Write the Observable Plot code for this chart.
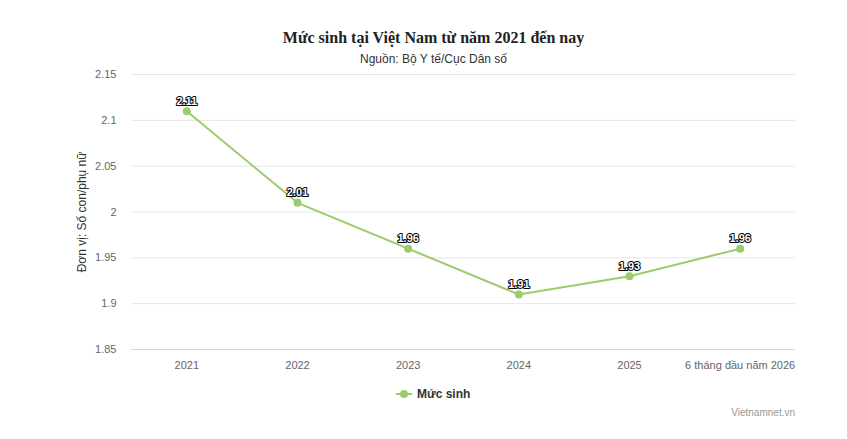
<!DOCTYPE html>
<html>
<head>
<meta charset="utf-8">
<script src="https://cdn.jsdelivr.net/npm/d3@7"></script>
<script src="https://cdn.jsdelivr.net/npm/@observablehq/plot@0.6"></script>
<style>
  html, body { margin: 0; padding: 0; background: #fff; }
  #wrap { position: relative; width: 847px; height: 439px; overflow: hidden; font-family: "Liberation Sans", Arial, sans-serif; }
  #title { position: absolute; left: 0; width: 867px; top: 29px; text-align: center; font-family: "Liberation Serif", "Times New Roman", serif; font-weight: bold; font-size: 16px; color: #222; }
  #subtitle { position: absolute; left: 0; width: 867px; top: 52px; text-align: center; font-size: 12px; color: #333; }
  #chart { position: absolute; left: 0; top: 60px; }
  #legend { position: absolute; left: 396px; top: 387px; font-size: 12px; font-weight: bold; color: #333; display: flex; align-items: center; }
  #legend svg { margin-right: 5px; }
  #credit { position: absolute; right: 52px; top: 407px; font-size: 10px; color: #999; }
</style>
</head>
<body>
<div id="wrap">
  <div id="title">Mức sinh tại Việt Nam từ năm 2021 đến nay</div>
  <div id="subtitle">Nguồn: Bộ Y tế/Cục Dân số</div>
  <div id="chart"></div>
  <div id="legend"><svg width="16" height="10"><line x1="0" y1="5" x2="16" y2="5" stroke="#9ccb6b" stroke-width="2"/><circle cx="8" cy="5" r="4" fill="#9ccb6b"/></svg>Mức sinh</div>
  <div id="credit">Vietnamnet.vn</div>
</div>
<script>
const categories = ["2021", "2022", "2023", "2024", "2025", "6 tháng đầu năm 2026"];
const values = [2.11, 2.01, 1.96, 1.91, 1.93, 1.96];
const yTicks = [1.85, 1.9, 1.95, 2, 2.05, 2.1, 2.15];
const seriesName = "Mức sinh";
const yLabel = "Đơn vị: Số con/phụ nữ";

const data = categories.map((c, i) => ({cat: c, v: values[i]}));
const color = "#9ccb6b";

const chart = Plot.plot({
  width: 847,
  height: 320,
  marginTop: 14,
  marginBottom: 31,
  marginLeft: 131,
  marginRight: 52,
  style: {fontFamily: "'Liberation Sans', Arial, sans-serif", fontSize: "11px", color: "#666"},
  x: {type: "band", domain: categories, padding: 0, align: 0.5, round: false},
  y: {domain: [1.85, 2.15]},
  marks: [
    Plot.gridY(yTicks, {stroke: "#e6e6e6", strokeOpacity: 1}),
    Plot.ruleY([1.85], {stroke: "#ccd6eb"}),
    Plot.axisY(yTicks, {tickSize: 0, tickPadding: 15, tickFormat: d => String(d), fill: "#666", fontSize: 11, label: null}),
    Plot.axisX({tickSize: 0, tickPadding: 12, fill: "#666", fontSize: 11, label: null}),
    Plot.text([yLabel], {frameAnchor: "left", textAnchor: "middle", dx: -49, rotate: -90, fill: "#333", fontSize: 12}),
    Plot.line(data, {x: "cat", y: "v", stroke: color, strokeWidth: 2}),
    Plot.dot(data, {x: "cat", y: "v", fill: color, r: 4}),
    Plot.text(data, {x: "cat", y: "v", text: d => String(d.v), dy: -10, fill: "#fff", stroke: "#000", strokeWidth: 2, fontWeight: "bold", fontSize: 11})
  ]
});
document.getElementById("chart").appendChild(chart);
</script>
</body>
</html>
